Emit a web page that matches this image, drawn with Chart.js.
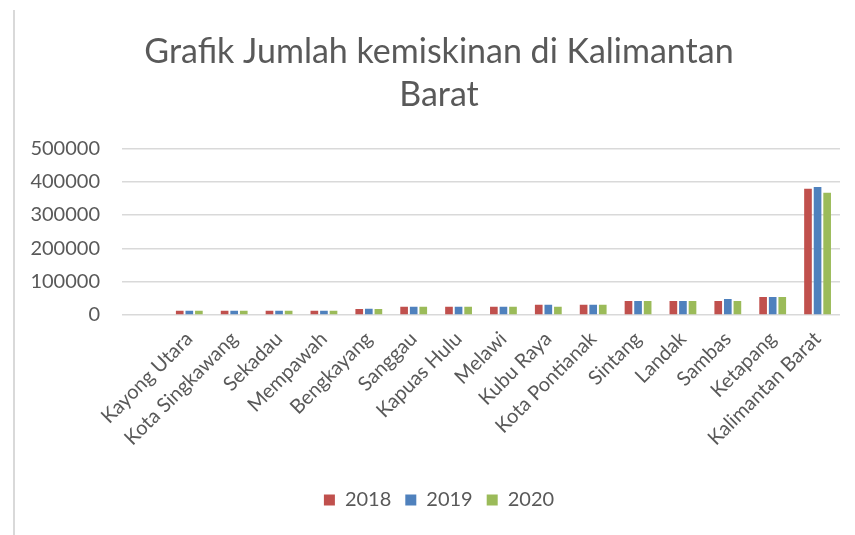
<!DOCTYPE html>
<html>
<head>
<meta charset="utf-8">
<script src="https://cdn.jsdelivr.net/npm/chart.js@4.4.1/dist/chart.umd.min.js"></script>
<style>
html,body{margin:0;padding:0;background:#fff;}
#wrap{width:855px;height:535px;position:relative;}
</style>
</head>
<body>
<div id="wrap"><canvas id="c" width="855" height="535"></canvas></div>
<script>
const categories = ["", "Kayong Utara", "Kota Singkawang", "Sekadau", "Mempawah", "Bengkayang", "Sanggau", "Kapuas Hulu", "Melawi", "Kubu Raya", "Kota Pontianak", "Sintang", "Landak", "Sambas", "Ketapang", "Kalimantan Barat"];
const values2018 = [null, 13000, 13000, 13000, 13000, 18000, 25000, 25000, 25000, 31000, 31000, 42000, 42000, 42000, 54000, 379000];
const values2019 = [null, 13000, 13000, 13000, 13000, 19000, 25000, 25000, 25000, 31000, 31000, 42000, 42000, 48000, 54000, 384000];
const values2020 = [null, 13000, 13000, 13000, 13000, 18000, 25000, 25000, 25000, 25000, 31000, 42000, 42000, 42000, 54000, 367000];
const seriesNames = ["2018", "2019", "2020"];
const yTicks = [0, 100000, 200000, 300000, 400000, 500000];

const textColor = '#595959';
const font = 'Lato, "Liberation Sans", sans-serif';

const leftLine = {
  id: 'leftLine',
  beforeDraw(chart) {
    const ctx = chart.ctx;
    ctx.save();
    ctx.strokeStyle = '#D9D9D9';
    ctx.lineWidth = 2;
    ctx.beginPath();
    ctx.moveTo(14, 10);
    ctx.lineTo(14, 535);
    ctx.stroke();
    ctx.restore();
  }
};

new Chart(document.getElementById('c'), {
  type: 'bar',
  data: {
    labels: categories,
    datasets: [
      {label: seriesNames[0], data: values2018, backgroundColor: '#C0504D'},
      {label: seriesNames[1], data: values2019, backgroundColor: '#4F81BD'},
      {label: seriesNames[2], data: values2020, backgroundColor: '#9BBB59'}
    ]
  },
  options: {
    responsive: false,
    animation: false,
    datasets: {bar: {categoryPercentage: 0.64, barPercentage: 0.8}},
    layout: {padding: {top: 0, left: 30, right: 7, bottom: 15}},
    plugins: {
      tooltip: {enabled: false},
      title: {
        display: true,
        text: ["Grafik Jumlah kemiskinan di Kalimantan", "Barat"],
        color: textColor,
        font: {family: font, size: 34, weight: 'normal', lineHeight: 1.27},
        padding: {top: 30, bottom: 32}
      },
      legend: {
        position: 'bottom',
        labels: {
          color: textColor,
          font: {family: font, size: 20},
          boxWidth: 11, boxHeight: 11,
          padding: 14
        }
      }
    },
    scales: {
      x: {
        grid: {display: false},
        border: {display: false},
        ticks: {
          color: textColor,
          font: {family: font, size: 20},
          minRotation: 45, maxRotation: 45,
          autoSkip: false,
          padding: 4
        },
        afterFit(s) { s.height = 161; }
      },
      y: {
        min: 0, max: 500000,
        afterBuildTicks(s) { s.ticks = yTicks.map(v => ({value: v})); },
        grid: {color: '#D9D9D9', lineWidth: 1.5, drawTicks: false},
        border: {display: false},
        ticks: {
          color: textColor,
          font: {family: font, size: 20},
          padding: 22,
          callback: v => String(v)
        },
        afterFit(s) { s.width = 92; }
      },
      yr: {
        position: 'right',
        display: true,
        grid: {display: false},
        border: {display: false},
        ticks: {display: false},
        afterFit(s) { s.width = 8; }
      }
    }
  },
  plugins: [leftLine]
});
</script>
</body>
</html>
